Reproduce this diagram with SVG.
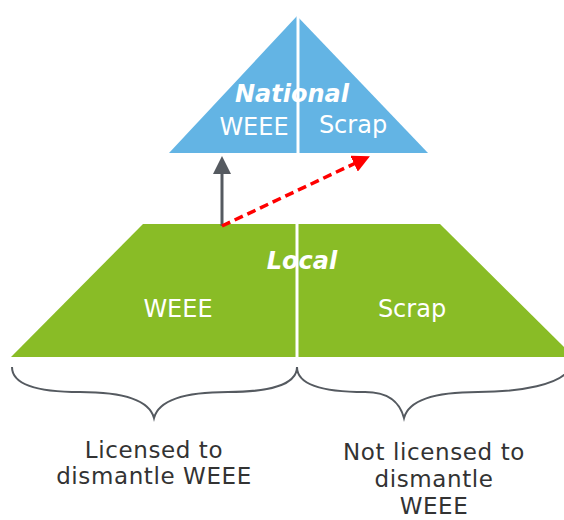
<svg xmlns="http://www.w3.org/2000/svg" width="564" height="520" viewBox="0 0 564 520">
<style>
.w{fill:#fff;font-family:"DejaVu Sans",Verdana,sans-serif;font-size:24px;text-anchor:middle}
.b{font-weight:bold;font-style:italic;font-size:24px}
.d{fill:#333;font-family:"DejaVu Sans",Verdana,sans-serif;font-size:23px;letter-spacing:0.6px;text-anchor:middle}
.brace{fill:none;stroke:#555a60;stroke-width:2}
</style>
<defs>
<marker id="ag" markerWidth="6" markerHeight="6" refX="3" refY="3" orient="auto" markerUnits="strokeWidth"><path d="M0,0 L6,3 L0,6 z" fill="#555a60"/></marker>
<marker id="ar" markerWidth="5" markerHeight="5" refX="2.5" refY="2.5" orient="auto" markerUnits="strokeWidth"><path d="M0,0 L5,2.5 L0,5 z" fill="#ff0000"/></marker>
</defs>
<g id="national">
<polygon points="297,16 428,153 169,153" fill="#63b4e4"/>
<line x1="298" y1="10" x2="298" y2="155" stroke="#fff" stroke-width="3"/>
<text class="w b" x="292" y="102">National</text>
<text class="w" x="254" y="135">WEEE</text>
<text class="w" x="353" y="133">Scrap</text>
</g>
<g id="local">
<polygon points="143,224 440,224 574,357 11,357" fill="#89bc26"/>
<line x1="297" y1="220" x2="297" y2="360" stroke="#fff" stroke-width="3"/>
<text class="w b" x="302" y="269">Local</text>
<text class="w" x="178" y="317">WEEE</text>
<text class="w" x="412" y="317">Scrap</text>
</g>
<g id="connectors">
<line x1="222" y1="226" x2="222" y2="165" stroke="#555a60" stroke-width="3" marker-end="url(#ag)"/>
<line x1="222" y1="226" x2="362" y2="160" stroke="#ff0000" stroke-width="3.5" stroke-dasharray="9,5" marker-end="url(#ar)"/>
</g>
<g id="braces">
<path class="brace" d="M12,367 C12,385 40,392 80,392 C130,392 150,403 154,418 C158,403 178,392 228,392 C268,392 297,385 297,367"/>
<path class="brace" d="M297,367 C297,385 325,392 365,392 C390,392 400,403 404,418 C408,403 428,392 478,392 C518,392 564,385 570,367"/>
</g>
<g id="labels">
<text class="d" x="154" y="458">Licensed to</text>
<text class="d" x="154" y="484">dismantle WEEE</text>
<text class="d" x="434" y="460">Not licensed to</text>
<text class="d" x="434" y="487">dismantle</text>
<text class="d" x="434" y="514">WEEE</text>
</g>
</svg>
